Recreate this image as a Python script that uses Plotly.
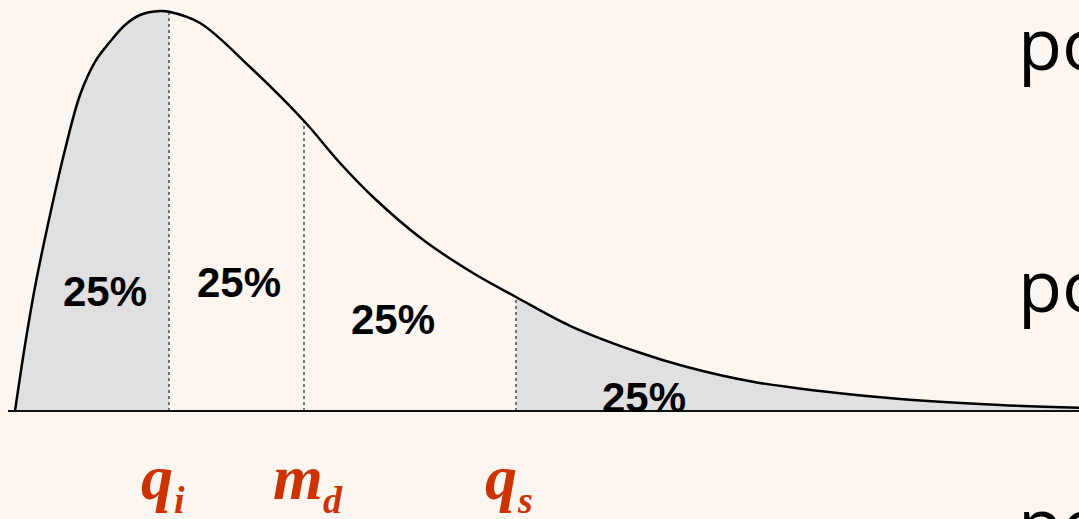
import plotly.graph_objects as go

# Skewed density curve (x in arbitrary units, y scaled so the mode is 1)
curve_x = [0.00, 0.10, 0.20, 0.35, 0.50, 0.65, 0.80, 0.95, 1.10, 1.25, 1.45, 1.54,
           1.85, 2.35, 2.89, 3.25, 3.58, 4.08, 4.58, 5.01, 5.55, 6.22,
           6.72, 7.38, 8.05, 8.85, 9.85, 10.64]
curve_y = [0.000, 0.165, 0.310, 0.490, 0.653, 0.790, 0.873, 0.923, 0.965, 0.990, 1.000, 0.998,
           0.970, 0.860, 0.725, 0.620, 0.535, 0.428, 0.345, 0.285, 0.213, 0.148,
           0.110, 0.073, 0.050, 0.030, 0.015, 0.008]

# Quartile cut points: lower quartile, median, upper quartile
cut_names = ["q_i", "m_d", "q_s"]
cut_x = [1.54, 2.89, 5.01]
share_labels = ["25%", "25%", "25%", "25%"]

W, H = 1079, 519
X0, X1 = -0.15, 10.64
Y0, Y1 = -0.27, 1.0275

BG = "#FDF5EF"
FILL = "#E0E0E0"
RED = "#CC3300"


def px(xp):
    return xp / W


def py(yp):
    return 1 - yp / H


def height_at(x):
    return curve_y[curve_x.index(x)]


fig = go.Figure()

# shaded lower and upper quarter areas
lo = [(x, y) for x, y in zip(curve_x, curve_y) if x <= cut_x[0]]
hi = [(x, y) for x, y in zip(curve_x, curve_y) if x >= cut_x[2]]
for seg in (lo, hi):
    fig.add_trace(go.Scatter(
        x=[p[0] for p in seg], y=[p[1] for p in seg],
        mode="lines", line=dict(width=0, shape="spline", color=FILL),
        fill="tozeroy", fillcolor=FILL, hoverinfo="skip", showlegend=False))

# dotted verticals at the cut points
for i, cx in enumerate(cut_x):
    fig.add_trace(go.Scatter(
        x=[cx, cx], y=[0, height_at(cx)], mode="lines",
        line=dict(color="#555555" if i == 0 else "#222222",
                  width=1.6 if i == 0 else 1.2, dash="dot"),
        hoverinfo="skip", showlegend=False))

# the density curve
fig.add_trace(go.Scatter(
    x=curve_x, y=curve_y, mode="lines",
    line=dict(color="black", width=2.5, shape="spline"),
    hoverinfo="skip", showlegend=False))

# base line
fig.add_shape(type="line", xref="x", yref="y", x0=-0.07, x1=10.7, y0=0, y1=0,
              line=dict(color="#111111", width=2))

ann = []
# percentage labels in each quarter
share_pos = [(105, 291), (239, 282), (393, 319), (644, 397)]
for txt, (xp, yp) in zip(share_labels, share_pos):
    ann.append(dict(x=px(xp), y=py(yp), xref="paper", yref="paper", text=txt,
                    showarrow=False, xanchor="center", yanchor="middle",
                    font=dict(family="Liberation Sans, Arial", size=42,
                              color="black", weight="bold")))

# symbols under the cut points: main letter and subscript
main_pos = [(157, 477), (298, 477), (501, 477)]
sub_pos = [(179, 500), (333, 500), (525, 500)]
for name, (mx, my), (sx, sy) in zip(cut_names, main_pos, sub_pos):
    main, sub = name.split("_")
    ann.append(dict(x=px(mx), y=py(my), xref="paper", yref="paper", text=main,
                    showarrow=False, xanchor="center", yanchor="middle",
                    font=dict(family="Liberation Serif, Times New Roman", size=64,
                              color=RED, weight="bold", style="italic")))
    ann.append(dict(x=px(sx), y=py(sy), xref="paper", yref="paper", text=sub,
                    showarrow=False, xanchor="center", yanchor="middle",
                    font=dict(family="Liberation Serif, Times New Roman", size=38,
                              color=RED, weight="bold", style="italic")))

# side text running off the right edge
for top in (-9, 233, 471):
    ann.append(dict(x=px(1016), y=py(top), xref="paper", yref="paper", text="po",
                    showarrow=False, xanchor="left", yanchor="top",
                    font=dict(family="Open Sans", size=72, color="black")))

fig.update_layout(
    width=W, height=H,
    margin=dict(l=0, r=0, t=0, b=0),
    paper_bgcolor=BG, plot_bgcolor=BG,
    xaxis=dict(range=[X0, X1], visible=False, fixedrange=True),
    yaxis=dict(range=[Y0, Y1], visible=False, fixedrange=True),
    annotations=ann,
    showlegend=False,
)

fig.write_html("out.html", config={"displayModeBar": False})
